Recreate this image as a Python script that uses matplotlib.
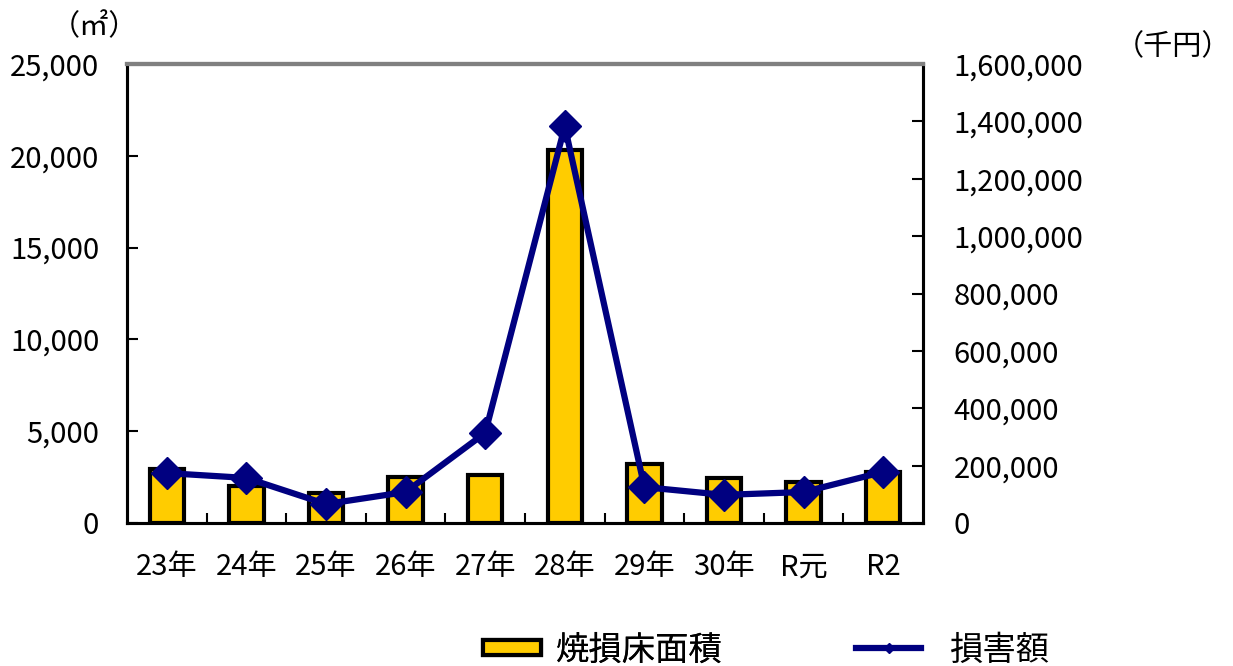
import numpy as np
import matplotlib.pyplot as plt
from matplotlib.ticker import FuncFormatter
from matplotlib.lines import Line2D
from matplotlib.patches import Patch

plt.rcParams['font.family'] = ['Noto Sans CJK JP', 'DejaVu Sans']

years = ['23年', '24年', '25年', '26年', '27年', '28年', '29年', '30年', 'R元', 'R2']
area = [2950, 2000, 1650, 2500, 2600, 20300, 3200, 2450, 2250, 2800]        # 焼損床面積 (㎡)
damage = [174000, 157000, 66000, 108000, 314000, 1383000, 125000, 98000, 108000, 178000]  # 損害額 (千円)

fig = plt.figure(figsize=(12.33, 6.66), dpi=100)
ax = fig.add_axes([127 / 1233, 1 - 523 / 666, (923 - 127) / 1233, (523 - 64) / 666])
ax2 = ax.twinx()

x = np.arange(len(years))
ax.bar(x, area, width=0.43, color='#ffcc00', edgecolor='black', linewidth=3, zorder=2)
ax2.plot(x, damage, color='#000080', linewidth=4.5, marker='D', markersize=16, zorder=3)

ax.set_xlim(-0.5, len(years) - 0.5)
ax.set_ylim(0, 25000)
ax2.set_ylim(0, 1600000)
ax.set_yticks(np.arange(0, 25001, 5000))
ax2.set_yticks(np.arange(0, 1600001, 200000))
fmt = FuncFormatter(lambda v, p: f'{int(v):,}')
ax.yaxis.set_major_formatter(fmt)
ax2.yaxis.set_major_formatter(fmt)

ax.set_xticks(x)
ax.set_xticklabels(years)
ax.set_xticks(np.arange(0.5, len(years) - 1, 1), minor=True)
ax.tick_params(axis='x', which='major', length=0, pad=21, labelsize=21)
ax.tick_params(axis='x', which='minor', direction='in', length=7, width=1.5)
ax.tick_params(axis='y', direction='in', length=8, width=1.5, labelsize=21, pad=20)
ax2.tick_params(axis='y', direction='in', length=8, width=1.5, labelsize=21, pad=22)

ax.set_zorder(ax2.get_zorder() - 1)
ax.patch.set_visible(True)
ax2.patch.set_visible(False)

for a in (ax, ax2):
    a.spines['top'].set_color('#808080')
    a.spines['top'].set_linewidth(3)
    for s in ('left', 'right', 'bottom'):
        a.spines[s].set_color('black')
        a.spines[s].set_linewidth(2.2)

fig.text(94 / 1233, 1 - 27 / 666, '（㎡）', fontsize=21, ha='center', va='center')
fig.text(1231 / 1233, 1 - 47 / 666, '（千円）', fontsize=21, ha='right', va='center')

# two single-entry legends so each sits where the reference puts it
leg_y = 1 - 650 / 666
bar_h = Patch(facecolor='#ffcc00', edgecolor='black', linewidth=3)
line_h = Line2D([0], [0], color='#000080', linewidth=4.5, marker='D', markersize=5)
leg1 = fig.legend([bar_h], ['焼損床面積'], loc='center left', bbox_to_anchor=(483 / 1233, leg_y),
                  frameon=False, fontsize=24, handlelength=1.75, handleheight=0.35,
                  handletextpad=0.45, borderpad=0, borderaxespad=0)
fig.legend([line_h], ['損害額'], loc='center left', bbox_to_anchor=(856 / 1233, leg_y),
           frameon=False, fontsize=24, handlelength=1.95, handletextpad=0.85,
           borderpad=0, borderaxespad=0)
fig.add_artist(leg1)

fig.savefig('out.png', dpi=100)
